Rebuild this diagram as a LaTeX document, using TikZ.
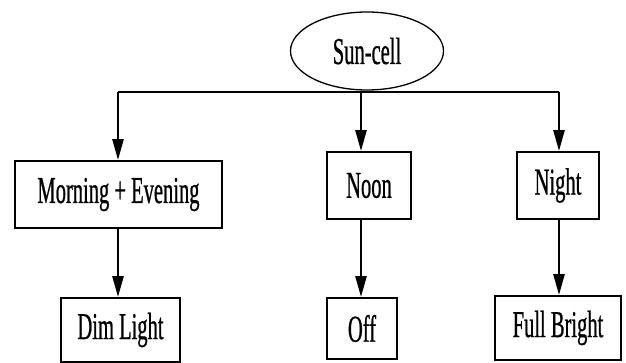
\documentclass[tikz,border=0pt]{standalone}
\usepackage{fontspec}
\setmainfont{Liberation Serif}[FakeStretch=0.54,FakeBold=0.6]
\usetikzlibrary{arrows.meta,shapes.geometric}
\tikzset{
  box/.style={draw, line width=1.8pt, inner sep=0pt, font=\fontsize{38}{38}\selectfont},
  oval/.style={draw, ellipse, line width=1.3pt, inner sep=0pt, minimum width=153pt, minimum height=78pt, font=\fontsize{38}{38}\selectfont},
  bus/.style={line width=2pt},
  arr/.style={line width=2.6pt, -{Triangle[length=21pt,width=11pt]}}
}
\begin{document}
\begin{tikzpicture}[x=1pt,y=-1pt]
\useasboundingbox (0,0) rectangle (626,363);
\node[oval] (sun) at (367,51) {Sun-cell};
\node[box, minimum width=207pt, minimum height=67pt] (me) at (118.5,194.5) {Morning + Evening\hspace{10pt}};
\node[box, minimum width=84pt, minimum height=67pt] (noon) at (369,185.5) {Noon\hspace{8pt}};
\node[box, minimum width=82pt, minimum height=67pt] (night) at (558,185.5) {Night\hspace{4pt}};
\node[box, minimum width=119pt, minimum height=64pt] (dim) at (120.5,330) {Dim Light};
\node[box, minimum width=70pt, minimum height=61pt] (off) at (362,328.5) {Off};
\node[box, minimum width=126pt, minimum height=64pt] (full) at (558,328) {Full Bright};
\coordinate (bl) at (118,92);
\coordinate (bm) at (361,92);
\coordinate (br) at (559,92);
\draw[bus] (bl) -- (br);
\draw[arr] (bl) -- (me.north -| bl);
\draw[arr] (bm) -- (noon.north -| bm);
\draw[arr] (br) -- (night.north -| br);
\draw[arr] (me.south -| bl) -- (dim.north -| bl);
\draw[arr] (noon.south -| bm) -- (off.north -| bm);
\draw[arr] (night.south -| br) -- (full.north -| br);
\end{tikzpicture}
\end{document}
